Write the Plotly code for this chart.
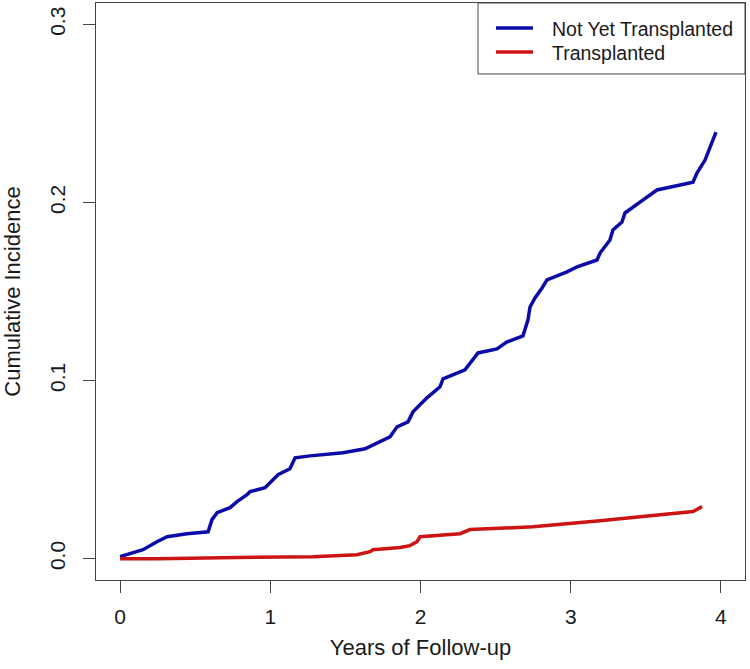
import plotly.graph_objects as go

# Not Yet Transplanted (years, cumulative incidence)
blue_years = [0.000, 0.153, 0.246, 0.313, 0.446, 0.586, 0.612, 0.646, 0.732, 0.779,
              0.845, 0.865, 0.965, 0.998, 1.052, 1.131, 1.165, 1.265, 1.484, 1.631,
              1.797, 1.844, 1.917, 1.950, 2.043, 2.130, 2.150, 2.296, 2.383, 2.509,
              2.576, 2.682, 2.715, 2.729, 2.762, 2.809, 2.842, 2.975, 3.042, 3.175,
              3.195, 3.261, 3.281, 3.341, 3.361, 3.461, 3.574, 3.814, 3.840, 3.894,
              3.967]
blue_ci = [0.0011, 0.0050, 0.0095, 0.0123, 0.0140, 0.0151, 0.0219, 0.0258, 0.0286, 0.0320,
           0.0359, 0.0376, 0.0398, 0.0426, 0.0471, 0.0505, 0.0566, 0.0577, 0.0595, 0.0617,
           0.0684, 0.0740, 0.0768, 0.0824, 0.0903, 0.0965, 0.1010, 0.1060, 0.1155, 0.1178,
           0.1217, 0.1251, 0.1340, 0.1413, 0.1464, 0.1520, 0.1565, 0.1610, 0.1638, 0.1677,
           0.1716, 0.1789, 0.1845, 0.1890, 0.1941, 0.2002, 0.2070, 0.2114, 0.2165, 0.2238,
           0.2395]

# Transplanted
red_years = [0.000, 0.253, 0.779, 1.285, 1.577, 1.664, 1.684, 1.864, 1.930, 1.977,
             1.997, 2.263, 2.330, 2.749, 3.195, 3.774, 3.814, 3.874]
red_ci = [0.0000, 0.0000, 0.0006, 0.0011, 0.0022, 0.0039, 0.0050, 0.0062, 0.0073, 0.0095,
          0.0123, 0.0140, 0.0163, 0.0179, 0.0213, 0.0258, 0.0264, 0.0292]

series_names = ["Not Yet Transplanted", "Transplanted"]
series_colors = ["#0B0BA8", "#CC1414"]

x_ticks = [0, 1, 2, 3, 4]
y_ticks = [0.0, 0.1, 0.2, 0.3]
y_tick_labels = ["0.0", "0.1", "0.2", "0.3"]

FONT = "Liberation Sans, Arial, sans-serif"
AXCOL = "#444444"
TXT = "#1a1a1a"

fig = go.Figure()
fig.add_trace(go.Scatter(x=blue_years, y=blue_ci, mode="lines", name=series_names[0],
                         line=dict(color=series_colors[0], width=3.5)))
fig.add_trace(go.Scatter(x=red_years, y=red_ci, mode="lines", name=series_names[1],
                         line=dict(color=series_colors[1], width=3.5)))

# Legend box drawn in paper coordinates (R-style legend)
leg_x0, leg_x1, leg_y0, leg_y1 = 0.5886, 1.0, 0.877, 1.0
line_x0, line_x1, text_x = 0.6163, 0.6733, 0.6995
row_y = [0.9567, 0.9151]
shapes = [dict(type="rect", xref="paper", yref="paper", x0=leg_x0, x1=leg_x1,
               y0=leg_y0, y1=leg_y1, line=dict(color=AXCOL, width=1),
               fillcolor="white", layer="above")]
annotations = []
for name, col, yy in zip(series_names, series_colors, row_y):
    shapes.append(dict(type="line", xref="paper", yref="paper", x0=line_x0, x1=line_x1,
                       y0=yy, y1=yy, line=dict(color=col, width=3.5), layer="above"))
    annotations.append(dict(text=name, xref="paper", yref="paper", x=text_x, y=yy - 0.002,
                            xanchor="left", yanchor="middle", showarrow=False,
                            font=dict(size=19.5, color=TXT, family=FONT)))

fig.update_layout(
    width=750, height=669,
    margin=dict(l=96, r=5, t=3, b=89),
    paper_bgcolor="white", plot_bgcolor="white",
    font=dict(family=FONT, size=21, color=TXT),
    showlegend=False,
    shapes=shapes, annotations=annotations,
    xaxis=dict(range=[-0.16, 4.16], tickvals=x_ticks, ticks="outside", ticklen=12,
               tickcolor=AXCOL, showline=True, linecolor=AXCOL, linewidth=1, mirror=True,
               showgrid=False, zeroline=False, tickfont=dict(size=21), automargin=False,
               ticklabelstandoff=6,
               title=dict(text="Years of Follow-up", font=dict(size=22), standoff=12)),
    yaxis=dict(range=[-0.012, 0.312], tickvals=y_ticks, ticktext=y_tick_labels,
               ticks="outside", ticklen=12, tickangle=-90, automargin=False,
               ticklabelstandoff=10,
               tickcolor=AXCOL, showline=True, linecolor=AXCOL, linewidth=1, mirror=True,
               showgrid=False, zeroline=False, tickfont=dict(size=21),
               title=dict(text="Cumulative Incidence", font=dict(size=22), standoff=20)),
)

fig.write_html("out.html", config={"displayModeBar": False},
               post_script="document.body.style.margin='0px';")
